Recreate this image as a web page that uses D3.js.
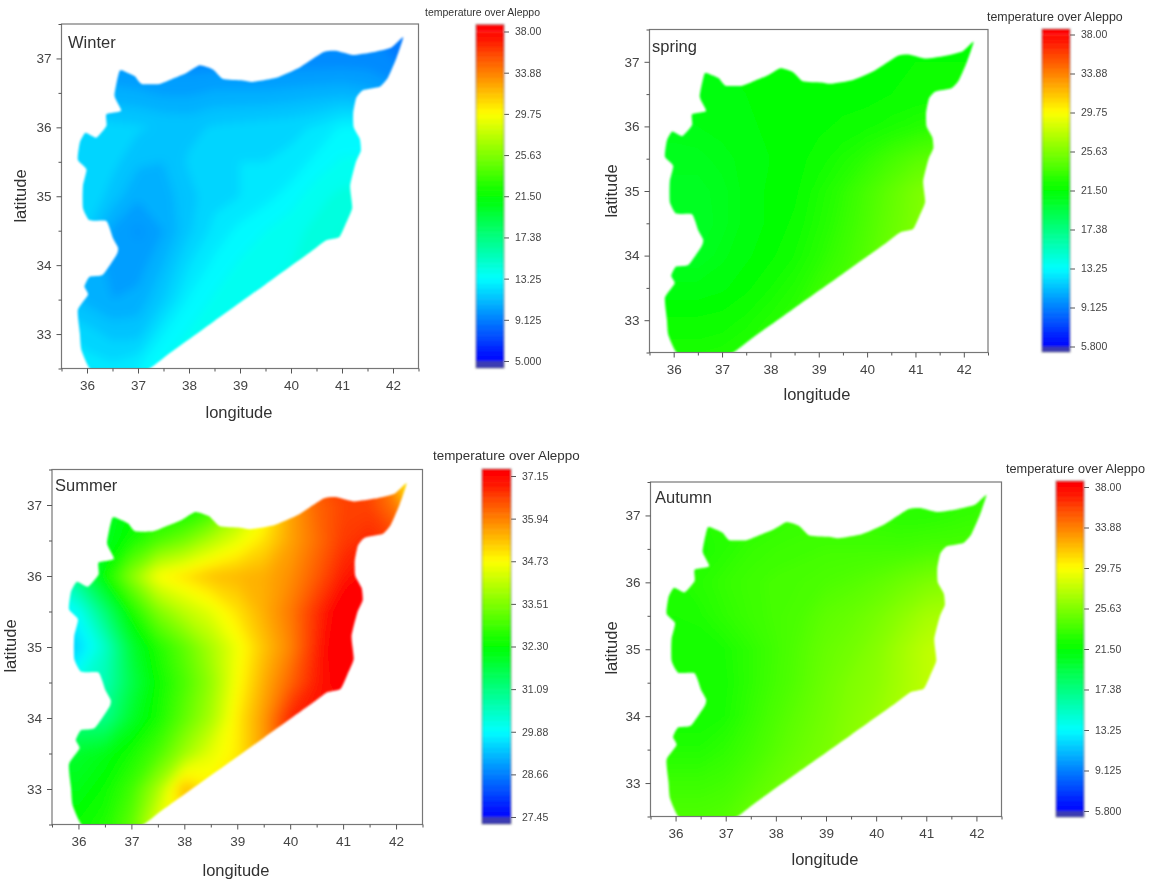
<!DOCTYPE html>
<html>
<head>
<meta charset="utf-8">
<script src="https://cdn.jsdelivr.net/npm/d3@7"></script>
<style>
html, body { margin: 0; padding: 0; background: #fff; }
svg { display: block; }
text { font-family: "Liberation Sans", Arial, sans-serif; fill: #333; }
</style>
</head>
<body>
<div id="chart"></div>
<script>
// grid the temperatures were read on (every half degree)
const lons = [35.5, 36, 36.5, 37, 37.5, 38, 38.5, 39, 39.5, 40, 40.5, 41, 41.5, 42, 42.5]
const lats = [37.5, 37, 36.5, 36, 35.5, 35, 34.5, 34, 33.5, 33, 32.5]

const xTicks = [36, 37, 38, 39, 40, 41, 42]
const xMinor = [35.5, 36.5, 37.5, 38.5, 39.5, 40.5, 41.5, 42.5]
const yTicks = [33, 34, 35, 36, 37]
const yMinor = [32.5, 33.5, 34.5, 35.5, 36.5, 37.5]

const barLabels = ['38.00', '33.88', '29.75', '25.63', '21.50', '17.38', '13.25', '9.125', '5.000']
const barLabelsLow = ['38.00', '33.88', '29.75', '25.63', '21.50', '17.38', '13.25', '9.125', '5.800']
const barLabelsSummer = ['37.15', '35.94', '34.73', '33.51', '32.30', '31.09', '29.88', '28.66', '27.45']

const ramp = ['#0000ff', '#00ffff', '#00ff00', '#ffff00', '#ff0000']

// country outline, lon / lat
const outline = [
  [36.64,36.82],[36.80,36.79],[36.94,36.74],[37.07,36.63],[37.42,36.63],[37.69,36.71],[37.95,36.79],[38.21,36.90],
  [38.47,36.84],[38.67,36.70],[39.05,36.68],[39.25,36.66],[39.71,36.72],[40.17,36.87],[40.63,37.09],[40.88,37.11],
  [41.21,37.05],[41.60,37.09],[41.97,37.16],[42.20,37.31],[42.07,37.01],[41.90,36.72],[41.74,36.59],[41.41,36.54],
  [41.28,36.43],[41.22,36.21],[41.23,36.00],[41.35,35.83],[41.37,35.66],[41.27,35.49],[41.16,35.15],[41.20,34.83],
  [41.08,34.61],[40.95,34.41],[40.69,34.36],[40.40,34.20],[39.50,33.72],[38.50,33.19],[37.60,32.71],[37.18,32.48],
  [36.60,32.44],[36.08,32.48],[35.89,32.77],[35.86,33.01],[35.82,33.35],
  [36.02,33.57],[35.95,33.69],[36.05,33.83],[36.31,33.86],[36.58,34.15],[36.61,34.25],[36.51,34.39],[36.38,34.64],
  [36.05,34.65],[35.92,34.83],[35.92,35.15],[35.99,35.39],[35.82,35.53],[35.86,35.78],[35.97,35.92],[36.18,35.85],
  [36.38,36.02],[36.38,36.19],[36.67,36.24],[36.54,36.46]
]

const winterTemps = [
  9.3, 9.3, 9.3, 9.3, 9.3, 9.3, 9.3, 9.3, 9.3, 9.3, 9.3, 9.3, 9.2, 8.9, 8.6,
  9.6, 9.6, 9.6, 9.6, 9.5, 9.4, 9.4, 9.4, 9.4, 9.4, 9.4, 9.4, 9.4, 9.2, 9.0,
  10.6, 10.6, 10.6, 10.5, 10.3, 10.3, 10.5, 10.5, 10.5, 10.6, 10.7, 10.8, 10.6, 10.1, 9.5,
  11.9, 11.9, 11.8, 11.7, 11.5, 11.4, 11.7, 11.8, 11.9, 12.0, 12.3, 12.9, 12.9, 12.4, 11.8,
  12.1, 12.1, 11.8, 11.1, 11.0, 11.7, 12.0, 12.2, 12.2, 12.4, 13.0, 13.5, 13.5, 13.3, 13.3,
  12.2, 12.2, 11.3, 10.5, 10.7, 11.4, 12.0, 12.2, 12.6, 13.1, 13.8, 14.2, 14.3, 14.3, 14.3,
  12.0, 11.6, 10.3, 9.7, 10.4, 11.5, 12.4, 13.0, 13.4, 13.8, 14.2, 14.6, 14.6, 14.6, 14.6,
  11.6, 11.0, 10.1, 10.1, 11.0, 12.2, 13.0, 13.5, 13.8, 14.0, 14.4, 14.6, 14.6, 14.6, 14.6,
  11.2, 10.8, 10.4, 10.6, 11.6, 12.9, 13.5, 13.8, 14.0, 14.0, 14.4, 14.6, 14.6, 14.6, 14.6,
  12.2, 11.9, 11.4, 11.4, 12.8, 13.5, 13.8, 14.0, 14.0, 14.0, 14.4, 14.6, 14.6, 14.6, 14.6,
  12.7, 12.5, 12.4, 12.8, 13.6, 13.9, 14.0, 14.0, 14.0, 14.0, 14.4, 14.6, 14.6, 14.6, 14.6
]

const springTemps = [
  21.3, 21.3, 21.3, 21.4, 21.4, 21.4, 21.5, 21.5, 21.5, 21.6, 21.6, 21.7, 21.7, 21.7, 21.7,
  21.2, 21.2, 21.2, 21.3, 21.4, 21.4, 21.5, 21.5, 21.5, 21.6, 21.6, 21.7, 21.7, 21.7, 21.7,
  21.0, 21.0, 21.0, 21.2, 21.3, 21.4, 21.5, 21.5, 21.5, 21.5, 21.7, 21.8, 21.8, 21.8, 21.8,
  20.8, 20.8, 20.9, 21.0, 21.2, 21.4, 21.5, 21.6, 21.8, 22.0, 22.3, 22.6, 23.0, 23.0, 23.0,
  20.6, 20.6, 20.6, 20.8, 21.0, 21.3, 21.5, 21.9, 22.4, 23.0, 23.7, 24.3, 24.5, 24.5, 24.5,
  20.4, 20.4, 20.4, 20.6, 21.0, 21.4, 21.6, 22.3, 23.0, 23.8, 24.6, 25.4, 25.8, 25.8, 25.8,
  20.3, 20.3, 20.3, 20.6, 21.0, 21.4, 21.8, 22.5, 23.2, 24.0, 24.8, 25.5, 25.8, 25.8, 25.8,
  20.5, 20.5, 20.5, 20.8, 21.2, 21.6, 22.1, 22.8, 23.5, 24.2, 25.0, 25.5, 25.8, 25.8, 25.8,
  21.0, 21.0, 21.0, 21.2, 21.6, 22.1, 22.6, 23.3, 23.8, 24.3, 25.0, 25.5, 25.8, 25.8, 25.8,
  21.8, 21.8, 21.8, 21.9, 22.2, 22.6, 23.0, 23.5, 23.9, 24.3, 25.0, 25.5, 25.8, 25.8, 25.8,
  22.3, 22.3, 22.3, 22.4, 22.6, 22.9, 23.2, 23.6, 24.0, 24.3, 25.0, 25.5, 25.8, 25.8, 25.8
]

const summerTemps = [
  32.0, 32.0, 32.0, 32.2, 32.2, 32.2, 32.5, 33.5, 34.7, 36.0, 36.5, 36.6, 36.5, 35.2, 34.2,
  31.8, 31.9, 32.0, 32.2, 32.2, 32.2, 32.6, 33.6, 34.5, 35.6, 36.2, 36.5, 36.5, 36.0, 34.5,
  31.3, 31.5, 32.0, 32.5, 33.0, 33.4, 34.0, 34.5, 35.0, 35.6, 36.1, 36.6, 36.8, 36.5, 36.0,
  30.4, 31.2, 32.4, 33.6, 34.7, 35.0, 35.3, 35.4, 35.5, 35.8, 36.3, 36.9, 37.2, 37.2, 37.2,
  29.6, 30.0, 31.2, 32.5, 33.5, 34.1, 34.5, 35.0, 35.5, 36.0, 36.7, 37.4, 37.4, 37.4, 37.4,
  29.3, 29.5, 30.4, 31.8, 32.6, 33.2, 33.9, 34.6, 35.3, 35.9, 36.8, 37.6, 37.6, 37.6, 37.6,
  29.8, 30.2, 30.6, 31.6, 32.4, 33.0, 33.7, 34.7, 35.5, 36.2, 36.9, 37.3, 37.3, 37.3, 37.3,
  31.0, 31.0, 31.0, 31.9, 32.5, 33.2, 33.9, 34.9, 35.7, 36.8, 37.0, 37.0, 37.0, 37.0, 37.0,
  31.8, 31.9, 32.1, 32.5, 33.0, 33.8, 34.5, 34.9, 35.7, 36.8, 37.0, 37.0, 37.0, 37.0, 37.0,
  32.1, 32.1, 32.4, 32.9, 33.9, 35.4, 34.9, 35.0, 36.0, 36.8, 37.0, 37.0, 37.0, 37.0, 37.0,
  32.4, 32.4, 32.6, 33.2, 34.5, 35.0, 35.0, 35.2, 36.0, 36.8, 37.0, 37.0, 37.0, 37.0, 37.0
]

const autumnTemps = [
  22.8, 22.8, 22.8, 22.8, 23.0, 23.0, 23.2, 23.2, 23.2, 23.2, 23.0, 22.8, 22.8, 23.0, 23.2,
  22.6, 22.6, 22.6, 22.6, 22.8, 23.0, 23.2, 23.2, 23.2, 23.0, 22.8, 22.8, 23.0, 23.2, 23.2,
  22.4, 22.4, 22.4, 22.8, 23.2, 23.4, 23.5, 23.6, 23.6, 23.6, 23.6, 23.8, 23.8, 23.8, 23.8,
  22.5, 22.5, 22.8, 23.2, 23.5, 23.7, 23.8, 24.0, 24.2, 24.5, 25.0, 25.5, 25.8, 25.8, 25.8,
  22.4, 22.4, 22.5, 23.0, 23.4, 23.7, 24.0, 24.5, 24.8, 25.3, 26.0, 26.8, 27.0, 27.0, 27.0,
  22.2, 22.2, 22.2, 22.4, 23.0, 23.6, 24.2, 24.8, 25.2, 25.8, 26.7, 27.6, 27.8, 27.8, 27.8,
  22.2, 22.2, 22.2, 22.3, 23.0, 23.7, 24.3, 25.0, 25.6, 26.0, 26.8, 27.6, 27.8, 27.8, 27.8,
  22.2, 22.2, 22.2, 22.4, 23.2, 24.0, 24.6, 25.2, 25.8, 26.3, 27.0, 27.6, 27.8, 27.8, 27.8,
  22.6, 22.6, 22.6, 23.0, 23.6, 24.3, 24.9, 25.4, 26.0, 26.4, 27.0, 27.6, 27.8, 27.8, 27.8,
  23.4, 23.4, 23.4, 23.6, 24.2, 24.8, 25.3, 25.7, 26.0, 26.4, 27.0, 27.6, 27.8, 27.8, 27.8,
  24.0, 24.0, 24.0, 24.2, 24.8, 25.2, 25.6, 25.9, 26.1, 26.4, 27.0, 27.6, 27.8, 27.8, 27.8
]

const layout = { width: 1151, height: 882 }

const panels = [
  { name: 'Winter', temps: winterTemps, labels: barLabels, step: 0.6, smooth: 'smooth5',
    frame: { left: 61.5, right: 418.5, top: 24, bottom: 368.5 }, nameAt: [68, 48], xLabelAt: [239, 418], yLabelAt: [26, 196], tickFont: 13.5,
    bar: { left: 476, right: 504, top: 24.5, bottom: 368, tickTop: 31.5, tickBottom: 361 }, barTitle: [425, 16, 10.5] },
  { name: 'spring', temps: springTemps, labels: barLabelsLow, step: 0.2, smooth: 'smooth5',
    frame: { left: 649.5, right: 988, top: 29.5, bottom: 352.5 }, nameAt: [652, 52], xLabelAt: [817, 400], yLabelAt: [617, 191], tickFont: 13.5,
    bar: { left: 1042, right: 1070, top: 29, bottom: 352, tickTop: 34.5, tickBottom: 346.5 }, barTitle: [987, 21, 12.4] },
  { name: 'Summer', temps: summerTemps, labels: barLabelsSummer, step: 0.06, smooth: 'smooth5',
    frame: { left: 52, right: 422.5, top: 469.5, bottom: 824.5 }, nameAt: [55, 491], xLabelAt: [236, 876], yLabelAt: [16, 646], tickFont: 13.5,
    bar: { left: 482, right: 511, top: 469, bottom: 824, tickTop: 476, tickBottom: 817 }, barTitle: [433, 460, 13.4] },
  { name: 'Autumn', temps: autumnTemps, labels: barLabelsLow, step: 0.2, smooth: 'smooth5',
    frame: { left: 650.5, right: 1001.5, top: 482, bottom: 816.5 }, nameAt: [655, 503], xLabelAt: [825, 865], yLabelAt: [617, 648], tickFont: 13.5,
    bar: { left: 1056, right: 1084, top: 481, bottom: 817, tickTop: 487, tickBottom: 811 }, barTitle: [1006, 473, 12.7] }
]

var svg = d3.select('#chart').append('svg')
  .attr('width', layout.width)
  .attr('height', layout.height)

var defs = svg.append('defs')
const addBlur = function(id, dev) {
  defs.append('filter').attr('id', id)
    .attr('x', '-10%').attr('y', '-10%').attr('width', '120%').attr('height', '120%')
    .append('feGaussianBlur').attr('stdDeviation', dev)
}
addBlur('soft', 0.8)
addBlur('softText', 0.4)
addBlur('smooth5', 5)

// grid index -> lon / lat, d3.contours puts values on cell centres
var gridLon = d3.scaleLinear().domain([0.5, lons.length - 0.5]).range([lons[0], lons[lons.length - 1]])
var gridLat = d3.scaleLinear().domain([0.5, lats.length - 0.5]).range([lats[0], lats[lats.length - 1]])

panels.forEach(function(p, idx) {
  var f = p.frame
  var xScale = d3.scaleLinear().domain([35.5, 42.5]).range([f.left, f.right])
  var yScale = d3.scaleLinear().domain([32.5, 37.5]).range([f.bottom, f.top])

  var vals = p.labels.map(Number)
  var color = d3.scaleLinear().domain([vals[8], vals[6], vals[4], vals[2], vals[0]]).range(ramp)

  var g = svg.append('g')

  var clipLand = 'land' + idx
  defs.append('clipPath').attr('id', clipLand).append('path')
    .attr('d', d3.line().x(d => xScale(d[0])).y(d => yScale(d[1])).curve(d3.curveCardinalClosed.tension(0.5))(outline))
  var clipFrame = 'frame' + idx
  defs.append('clipPath').attr('id', clipFrame).append('rect')
    .attr('x', f.left).attr('y', f.top).attr('width', f.right - f.left).attr('height', f.bottom - f.top)

  var lo = d3.min(p.temps), hi = d3.max(p.temps)
  var thresholds = d3.range(lo - p.step, hi + p.step, p.step)
  var contours = d3.contours().size([lons.length, lats.length]).thresholds(thresholds)(p.temps)
  var toPx = d3.geoTransform({ point: function(x, y) {
    this.stream.point(xScale(gridLon(x)), yScale(gridLat(y)))
  }})
  var path = d3.geoPath(toPx)

  g.append('g').attr('clip-path', `url(#${clipFrame})`)
    .append('g').attr('filter', 'url(#soft)')
    .append('g').attr('clip-path', `url(#${clipLand})`)
    .append('g').attr('filter', `url(#${p.smooth})`)
    .selectAll('path').data(contours).join('path')
    .attr('d', path)
    .attr('fill', d => color(d.value + p.step / 2))

  // frame
  g.append('rect').attr('x', f.left).attr('y', f.top)
    .attr('width', f.right - f.left).attr('height', f.bottom - f.top)
    .attr('fill', 'none').attr('stroke', '#777').attr('stroke-width', 1.2)

  var marks = g.append('g').attr('filter', 'url(#softText)')

  // axes
  const styleAxis = function(a) {
    a.select('.domain').remove()
    a.selectAll('.tick line').attr('stroke', '#555')
    a.selectAll('.tick text').attr('font-size', p.tickFont).style('fill', '#444')
  }
  marks.append('g').attr('transform', `translate(0,${f.bottom})`)
    .call(d3.axisBottom(xScale).tickValues(xTicks).tickSize(5).tickPadding(7).tickFormat(d3.format('d')))
    .call(styleAxis)
  marks.append('g').attr('transform', `translate(0,${f.bottom})`)
    .call(d3.axisBottom(xScale).tickValues(xMinor).tickSize(3).tickFormat(''))
    .call(styleAxis)
  marks.append('g').attr('transform', `translate(${f.left},0)`)
    .call(d3.axisLeft(yScale).tickValues(yTicks).tickSize(5).tickPadding(5).tickFormat(d3.format('d')))
    .call(styleAxis)
  marks.append('g').attr('transform', `translate(${f.left},0)`)
    .call(d3.axisLeft(yScale).tickValues(yMinor).tickSize(3).tickFormat(''))
    .call(styleAxis)

  marks.append('text').attr('x', p.nameAt[0]).attr('y', p.nameAt[1]).attr('font-size', 16.5).text(p.name)
  marks.append('text').attr('x', p.xLabelAt[0]).attr('y', p.xLabelAt[1])
    .attr('text-anchor', 'middle').attr('font-size', 16.5).text('longitude')
  marks.append('text').attr('transform', `translate(${p.yLabelAt[0]},${p.yLabelAt[1]}) rotate(-90)`)
    .attr('text-anchor', 'middle').attr('font-size', 16.5).text('latitude')

  // colour bar, same ramp split in bands
  var b = p.bar
  var barY = d3.scalePoint().domain(p.labels).range([b.tickTop, b.tickBottom])
  var bandT = d3.scaleLinear().domain([b.tickBottom, b.tickTop]).range([0, 1]).clamp(true)
  var rampT = d3.scaleLinear().domain([0, 0.25, 0.5, 0.75, 1]).range(ramp)
  var bandH = (b.tickBottom - b.tickTop) / 64
  var bands = d3.range(b.tickTop, b.tickBottom, bandH)
  var barG = g.append('g').attr('filter', 'url(#soft)')
  barG.selectAll('rect.band').data(bands).join('rect').attr('class', 'band')
    .attr('x', b.left).attr('width', b.right - b.left)
    .attr('y', d => d).attr('height', bandH + 0.5)
    .attr('fill', d => rampT(bandT(d + bandH / 2)))
  barG.append('rect').attr('x', b.left).attr('width', b.right - b.left)
    .attr('y', b.top).attr('height', b.tickTop - b.top).attr('fill', '#ff0000')
  barG.append('rect').attr('x', b.left).attr('width', b.right - b.left)
    .attr('y', b.tickBottom).attr('height', b.bottom - b.tickBottom).attr('fill', '#3a3ab4')
  barG.append('rect').attr('x', b.left).attr('y', b.top)
    .attr('width', b.right - b.left).attr('height', b.bottom - b.top)
    .attr('fill', 'none').attr('stroke', '#666').attr('stroke-opacity', 0.6)

  marks.append('g').attr('transform', `translate(${b.right},0)`)
    .call(d3.axisRight(barY).tickSize(5).tickPadding(6))
    .call(function(a) {
      a.select('.domain').remove()
      a.selectAll('.tick line').attr('stroke', '#555')
      a.selectAll('.tick text').attr('font-size', 10.5).style('fill', '#444')
    })

  marks.append('text').attr('x', p.barTitle[0]).attr('y', p.barTitle[1])
    .attr('font-size', p.barTitle[2]).text('temperature over Aleppo')
})
</script>
</body>
</html>
